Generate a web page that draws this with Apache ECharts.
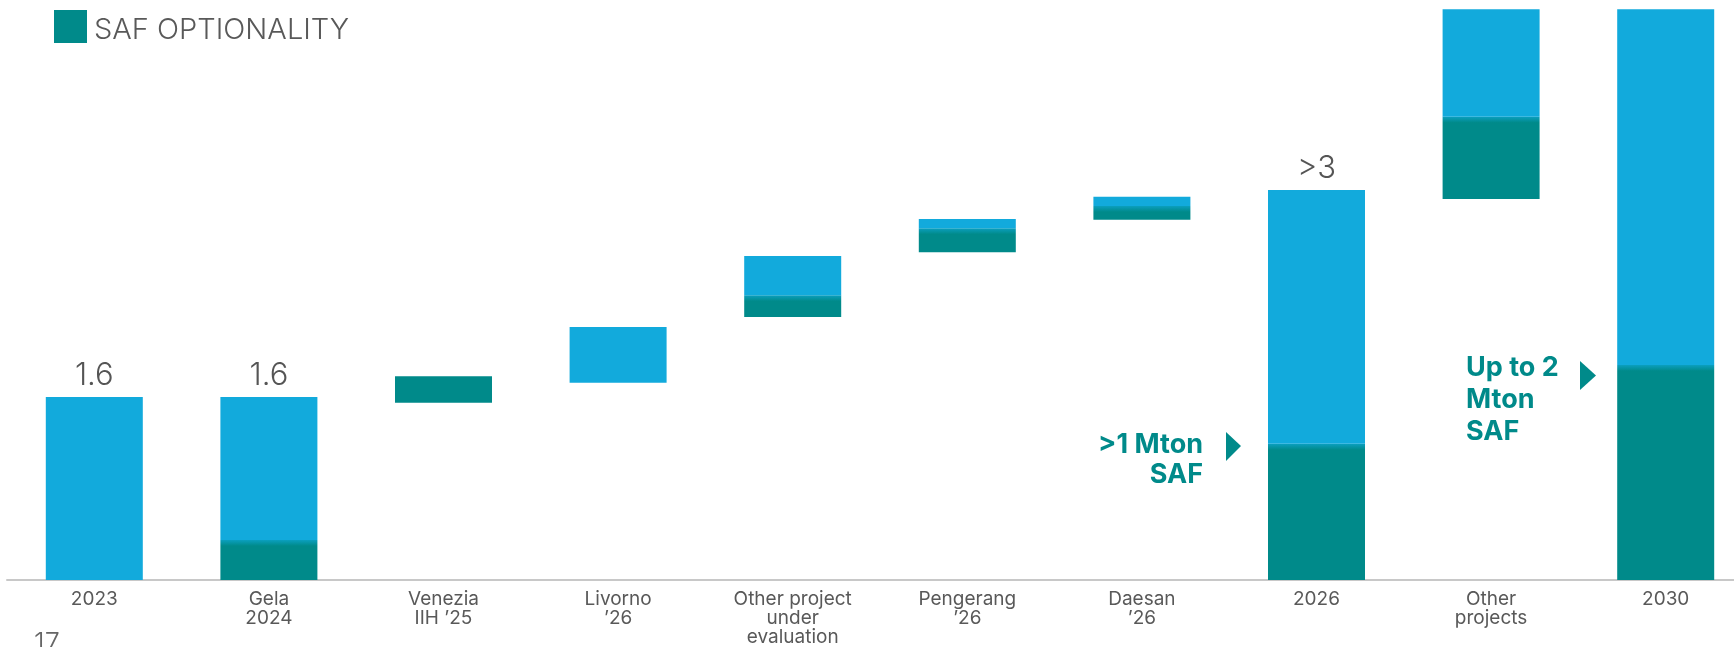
<!DOCTYPE html>
<html>
<head>
<meta charset="utf-8">
<script src="https://cdn.jsdelivr.net/npm/echarts@6/dist/echarts.min.js"></script>
<style>
  html, body { margin: 0; padding: 0; background: #ffffff; }
  #chart { width: 1734px; height: 647px; }
</style>
</head>
<body>
<div id="chart"></div>
<script>
// Biorefining capacity bridge, Mton/year
const categories = [
  '2023', 'Gela\n2024', 'Venezia\nIIH \u201925', 'Livorno\n\u201926',
  'Other project\nunder\nevaluation', 'Pengerang\n\u201926', 'Daesan\n\u201926',
  '2026', 'Other\nprojects', '2030'
];
// invisible offset that floats each step of the bridge
const baseValues = [0, 0, 1.55, 1.725, 2.30, 2.865, 3.15, 0, 3.33, 0];
// SAF optionality share of each bar
const safValues  = [0, 0.35, 0.23, 0, 0.19, 0.21, 0.12, 1.19, 0.72, 1.88];
// remaining capacity
const otherValues = [1.6, 1.25, 0, 0.487, 0.343, 0.08, 0.08, 2.22, 0.94, 3.11];
// value labels printed above the totals
const totalLabels = ['1.6', '1.6', '', '', '', '', '', '>3', '', ''];

const TEAL = '#008a8a';
const BLUE = '#12aadc';
const FONT = 'Inter, "Noto Sans", sans-serif';

const Y_MAX = 5;
const PLOT_HEIGHT = 572;          // grid height in px (647 - 8 - 67)
const BLEND_PX = 6;               // soft blue-to-teal seam at the top of each teal block

// teal blocks that carry capacity on top of them get a short fade at the seam
const safData = safValues.map((v, i) => {
  if (!(v > 0 && otherValues[i] > 0)) return v;
  const h = v / Y_MAX * PLOT_HEIGHT;
  const stop = Math.min(0.9, BLEND_PX / h);
  return {
    value: v,
    itemStyle: {
      color: new echarts.graphic.LinearGradient(0, 0, 0, 1, [
        { offset: 0, color: '#0b9fbf' },
        { offset: stop, color: TEAL },
        { offset: 1, color: TEAL }
      ])
    }
  };
});

const chart = echarts.init(document.getElementById('chart'), null, { renderer: 'canvas' });

chart.setOption({
  animation: false,
  backgroundColor: '#ffffff',
  textStyle: { fontFamily: FONT },
  legend: {
    data: ['SAF OPTIONALITY'],
    left: 54, top: 10, padding: 0,
    itemWidth: 33, itemHeight: 33, itemGap: 10,
    icon: 'rect',
    selectedMode: false,
    formatter: '{t|{name}}',
    textStyle: {
      fontSize: 29, color: '#595959', fontWeight: 300, fontFamily: FONT,
      rich: {
        t: { fontSize: 29, color: '#595959', fontWeight: 300, fontFamily: FONT, padding: [8, 0, 0, 2] }
      }
    }
  },
  // the category band runs a little past the right edge of the page
  grid: { left: 7, width: 1746, top: 8, bottom: 67, containLabel: false, outerBoundsMode: 'none' },
  xAxis: {
    type: 'category',
    data: categories,
    axisLine: { lineStyle: { color: '#c8c8c8', width: 2 } },
    axisTick: { show: false },
    axisLabel: {
      interval: 0, margin: 10,
      fontSize: 19, lineHeight: 19, color: '#595959', fontFamily: FONT
    }
  },
  yAxis: {
    type: 'value', min: 0, max: Y_MAX,
    show: false,
    splitLine: { show: false }
  },
  series: [
    {
      name: 'base', type: 'bar', stack: 'bridge', barWidth: 97,
      itemStyle: { color: 'transparent' },
      emphasis: { disabled: true },
      data: baseValues
    },
    {
      name: 'SAF OPTIONALITY', type: 'bar', stack: 'bridge', barWidth: 97,
      itemStyle: { color: TEAL },
      emphasis: { disabled: true },
      data: safData
    },
    {
      name: 'capacity', type: 'bar', stack: 'bridge', barWidth: 97,
      itemStyle: { color: BLUE },
      emphasis: { disabled: true },
      label: {
        show: true, position: 'top', distance: 6,
        fontSize: 31, color: '#555555', fontWeight: 300, fontFamily: FONT,
        formatter: p => totalLabels[p.dataIndex]
      },
      data: otherValues
    }
  ],
  graphic: [
    {
      type: 'text', x: 1203, y: 430,
      style: {
        text: '>1 Mton\nSAF', align: 'right', verticalAlign: 'top',
        fill: TEAL, font: 'bold 27px ' + FONT, lineHeight: 30
      }
    },
    {
      type: 'polygon',
      shape: { points: [[1226, 432], [1241, 446], [1226, 461]] },
      style: { fill: TEAL }
    },
    {
      type: 'text', x: 1466, y: 352,
      style: {
        text: 'Up to 2\nMton\nSAF', align: 'left', verticalAlign: 'top',
        fill: TEAL, font: 'bold 27px ' + FONT, lineHeight: 32
      }
    },
    {
      type: 'polygon',
      shape: { points: [[1580, 361], [1596, 375.5], [1580, 390]] },
      style: { fill: TEAL }
    },
    {
      type: 'text', x: 34, y: 630,
      style: { text: '17', fill: '#666666', font: '300 27px ' + FONT }
    }
  ]
});
</script>
</body>
</html>
